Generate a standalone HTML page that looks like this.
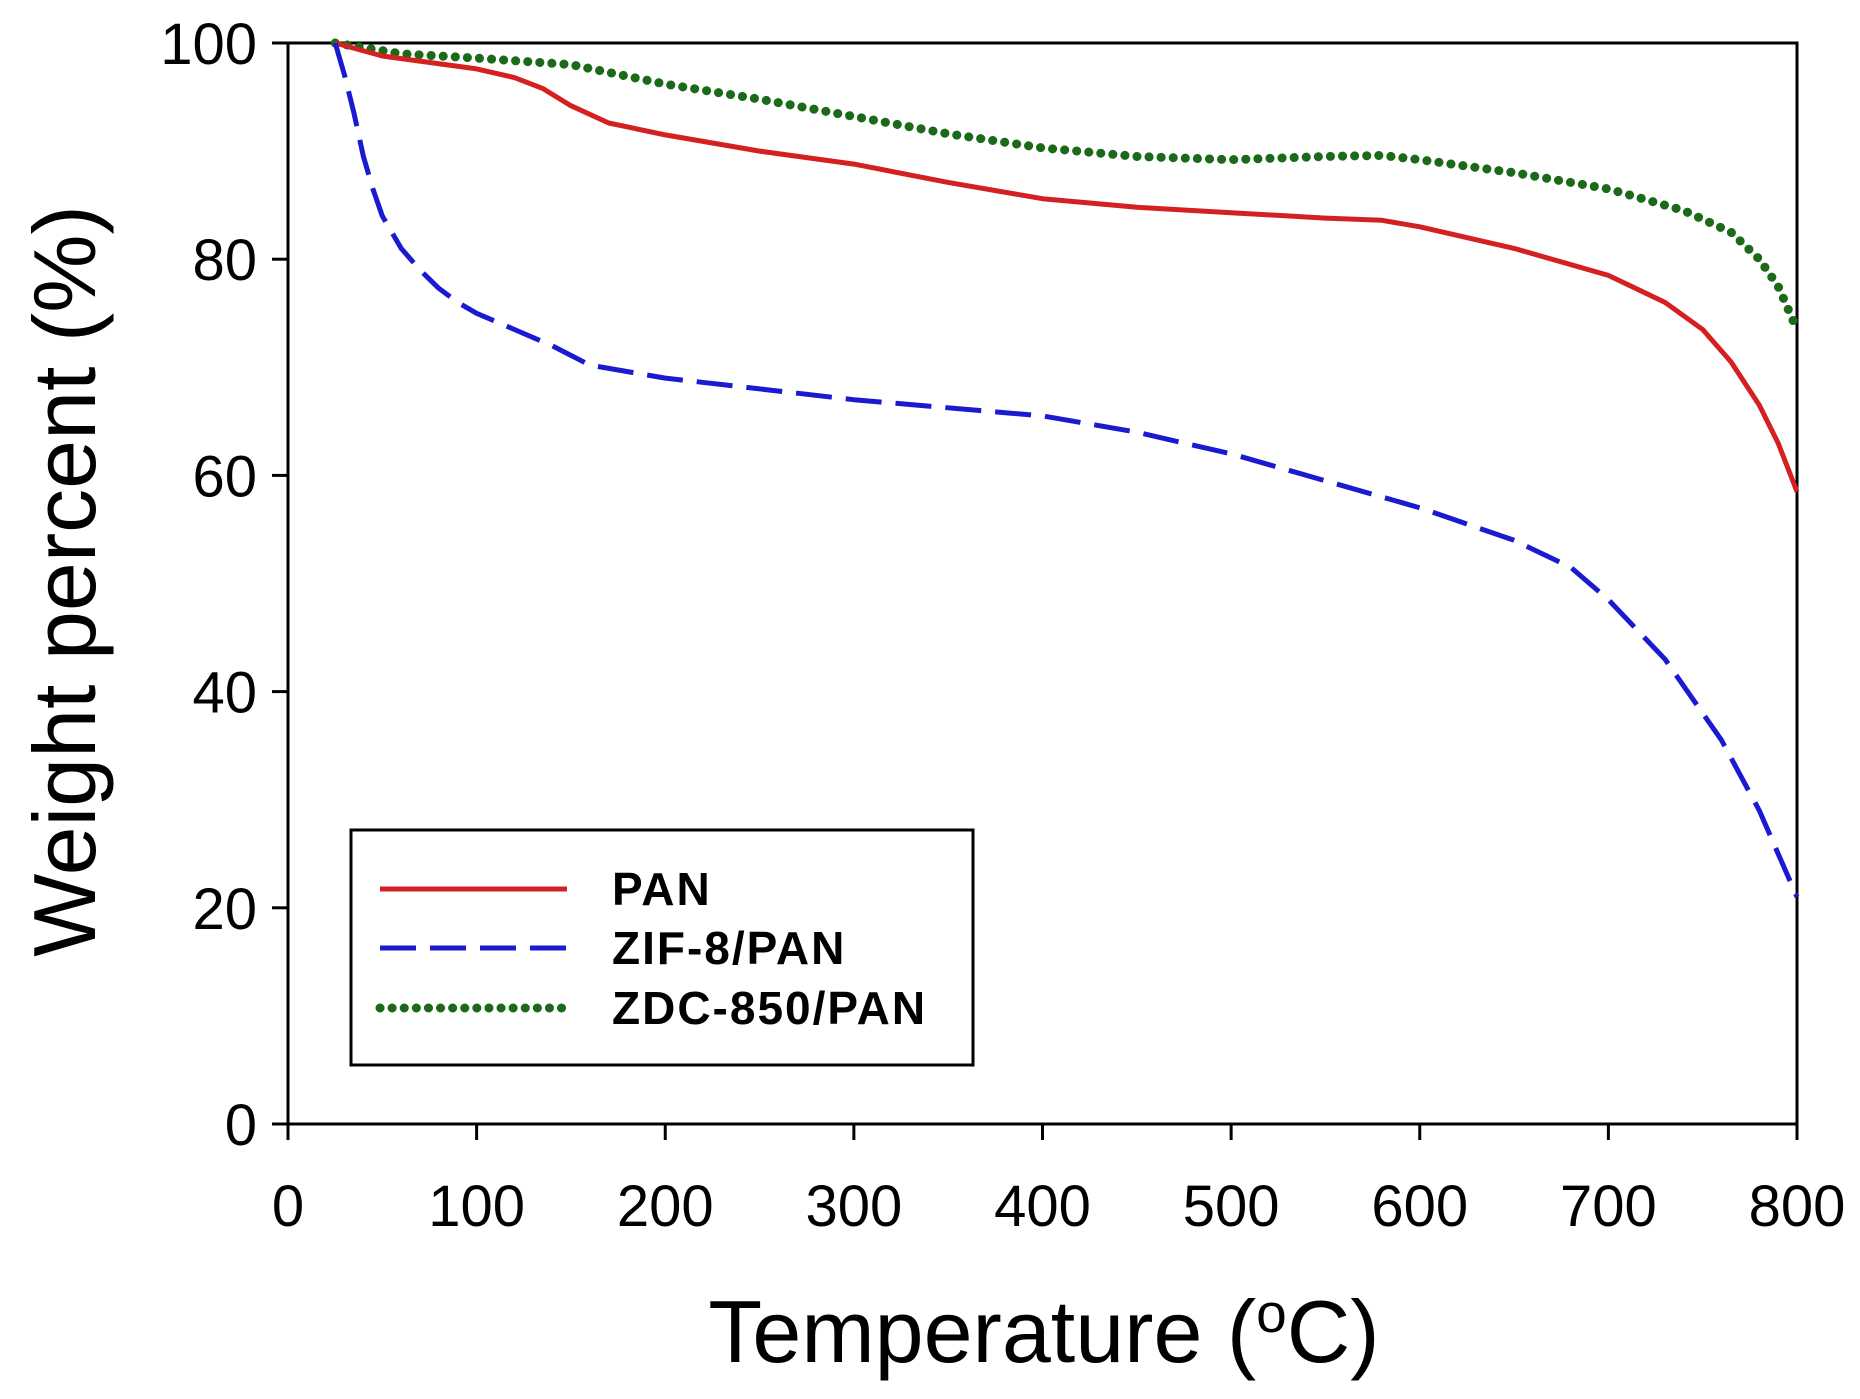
<!DOCTYPE html>
<html><head><meta charset="utf-8"><style>
html,body{margin:0;padding:0;background:#fff;}
svg{display:block;font-family:"Liberation Sans",Arial,sans-serif;}
</style></head><body>
<svg id="s" width="1860" height="1399" viewBox="0 0 1860 1399" xmlns="http://www.w3.org/2000/svg">
<rect width="1860" height="1399" fill="#fff"/>
<g id="ax" stroke="#000" stroke-width="3" fill="none">
<rect x="288" y="43" width="1509" height="1081"/>
</g>
<g id="lab" font-size="58" fill="#000"></g>
<text x="1044" y="1362" font-size="88" text-anchor="middle">Temperature (<tspan dy="-30" font-size="55">o</tspan><tspan dy="30">C)</tspan></text>
<text transform="translate(95,581) rotate(-90)" font-size="88" text-anchor="middle">Weight percent (%)</text>
<g id="series" fill="none"></g>
<rect x="351" y="830" width="622" height="235" fill="#fff" stroke="#000" stroke-width="3"/>
<line x1="380" y1="889" x2="567" y2="889" stroke="#d42020" stroke-width="5"/>
<line x1="380" y1="948" x2="567" y2="948" stroke="#1a1ad0" stroke-width="5" stroke-dasharray="36,14"/>
<line x1="380" y1="1008" x2="567" y2="1008" stroke="#1a6a1a" stroke-width="9" stroke-dasharray="0.1,12" stroke-linecap="round"/>
<g font-size="46" font-weight="bold" letter-spacing="2">
<text x="612" y="905">PAN</text>
<text x="612" y="964">ZIF-8/PAN</text>
<text x="612" y="1024">ZDC-850/PAN</text>
</g>
</svg>
<script>
var X=function(x){return 288+x*1.88625},Y=function(y){return 1124-y*10.81};
var ns="http://www.w3.org/2000/svg";
var ax=document.getElementById('ax'),lab=document.getElementById('lab');
function el(p,t,a,txt){var e=document.createElementNS(ns,t);for(var k in a)e.setAttribute(k,a[k]);if(txt!=null)e.textContent=txt;p.appendChild(e);return e;}
for(var i=0;i<=8;i++){var x=X(i*100);el(ax,'line',{x1:x,y1:1124,x2:x,y2:1140});el(lab,'text',{x:x,y:1226,'text-anchor':'middle'},String(i*100));}
for(var j=0;j<=5;j++){var y=Y(j*20);el(ax,'line',{x1:272,y1:y,x2:288,y2:y});el(lab,'text',{x:257,y:y+21,'text-anchor':'end'},String(j*20));}
var PAN=[[25,100],[50,98.8],[100,97.6],[120,96.8],[135,95.8],[150,94.2],[170,92.6],[200,91.5],[250,90],[300,88.8],[350,87.1],[400,85.6],[450,84.8],[500,84.3],[550,83.8],[580,83.6],[600,83],[650,81],[700,78.5],[730,76],[750,73.5],[765,70.5],[780,66.5],[790,63],[800,58.5]];
var ZIF=[[25,100],[30,97],[35,93.5],[40,89.5],[45,86.5],[50,84],[60,81],[70,79],[80,77.3],[90,76],[100,75],[120,73.5],[140,72],[160,70.2],[200,69],[300,67],[400,65.5],[450,64],[500,62],[550,59.5],[600,57],[650,54],[680,51.5],[700,48.5],[730,43],[760,35.5],[780,29],[800,21]];
var ZDC=[[25,100],[60,99],[100,98.6],[150,98],[200,96.2],[250,94.8],[300,93.2],[350,91.6],[400,90.3],[450,89.5],[500,89.2],[550,89.5],[580,89.6],[600,89.2],[650,88],[700,86.5],[740,84.5],[765,82.5],[780,80],[790,77.5],[800,73.5]];
function pts(a){return a.map(function(p){return X(p[0]).toFixed(1)+','+Y(p[1]).toFixed(1)}).join(' ');}
var g=document.getElementById('series');
el(g,'polyline',{points:pts(ZDC),stroke:'#1a6a1a','stroke-width':9,'stroke-dasharray':'0.1,12','stroke-linecap':'round','stroke-linejoin':'round'});
el(g,'polyline',{points:pts(PAN),stroke:'#d42020','stroke-width':5,'stroke-linejoin':'round'});
el(g,'polyline',{points:pts(ZIF),stroke:'#1a1ad0','stroke-width':5,'stroke-dasharray':'36,14','stroke-linejoin':'round'});
</script>
</body></html>
